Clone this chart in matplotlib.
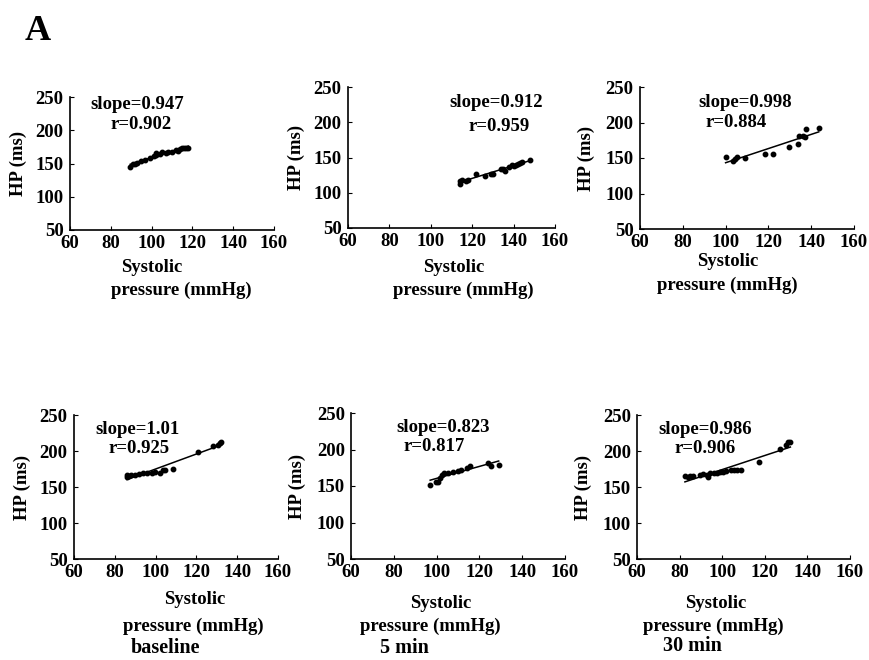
import numpy as np
import matplotlib
matplotlib.use('Agg')
import matplotlib.pyplot as plt

plt.rcParams['font.family'] = ['Liberation Serif', 'DejaVu Serif']
plt.rcParams['font.weight'] = 'bold'

# data: systolic pressure (mmHg) and HP (ms)
sbp_1 = [89.5, 91, 92, 93, 95, 97, 99, 101, 102, 102, 104, 105, 107, 108, 110, 112, 113, 114, 115, 116, 117, 118]
hp_1 = [145, 149, 150, 151, 154, 155, 158, 162, 166, 163, 164, 167, 166, 168, 168, 170, 169, 172, 174, 173, 173, 174]

sbp_2 = [114, 114, 115, 117, 118, 122, 126, 129, 130, 134, 135, 136, 138, 139, 140, 141, 142, 143, 144, 148]
hp_2 = [113, 117, 118, 117, 118, 127, 124, 126, 127, 134, 133, 131, 137, 139, 138, 139, 141, 142, 143, 147]

sbp_3 = [100, 103.5, 104.5, 105.5, 109, 118.5, 122, 129.5, 134, 134.5, 136, 137, 137.5, 143.5]
hp_3 = [152, 146, 149, 152, 150, 155, 156, 166, 170, 181, 181, 180, 191, 192]

sbp_4 = [86, 86, 87, 88, 90, 92, 94, 96, 98, 99.5, 102, 103.5, 104.5, 108.5, 121, 128, 130.5, 131.5, 132]
hp_4 = [167, 164, 165, 166, 167, 168, 169, 170, 170, 171, 170, 173, 174, 175, 198, 207, 209, 211, 212]

sbp_5 = [97, 99.5, 100.5, 101.5, 102.5, 103.5, 105.5, 107.5, 110, 111.5, 114, 115.5, 124, 125.5, 129]
hp_5 = [152, 156, 156, 161, 165, 168, 168, 169, 170, 172, 175, 177, 181, 178, 179]

sbp_6 = [82.5, 84, 85, 86.5, 89.5, 91, 93, 93.5, 94.5, 96, 97.5, 99, 100.5, 102, 104, 105.5, 107, 109, 117.5, 127, 130, 131, 132]
hp_6 = [165, 164, 165, 165, 166, 168, 167, 164, 169, 170, 170, 171, 171, 172, 173, 174, 174, 174, 185, 203, 209, 212, 212]

slopes = ['0.947', '0.912', '0.998', '1.01', '0.823', '0.986']
r_vals = ['0.902', '0.959', '0.884', '0.925', '0.817', '0.906']
times = [None, None, None, 'baseline', '5 min', '30 min']

xs = [sbp_1, sbp_2, sbp_3, sbp_4, sbp_5, sbp_6]
ys = [hp_1, hp_2, hp_3, hp_4, hp_5, hp_6]

W, H = 869, 660
# axes boxes in pixels: left, top, right, bottom
boxes = [(70, 97, 274, 230), (348, 87, 555, 228), (640, 87, 854, 229),
         (74, 415, 278, 559), (351, 413, 565, 559), (637, 415, 850, 559)]
# text positions (axes fraction): slope, r, Systolic, pressure, time label
slope_pos = [(0.33, 0.94), (0.715, 0.89), (0.49, 0.89), (0.31, 0.90), (0.43, 0.90), (0.32, 0.90)]
r_pos = [(0.35, 0.79), (0.73, 0.72), (0.45, 0.75), (0.32, 0.77), (0.39, 0.77), (0.32, 0.77)]
sys_pos = [(0.40, 267), (0.51, 267), (0.41, 261), (0.59, 600), (0.42, 603), (0.37, 603)]
pres_pos = [(0.545, 290), (0.555, 290), (0.41, 285), (0.585, 626), (0.37, 626), (0.36, 626)]
time_pos = [None, None, None, (0.45, 648), (0.25, 648), (0.26, 646)]

fig = plt.figure(figsize=(W / 100, H / 100), dpi=100)
fs = 13.5

for i in range(6):
    x0, y0, x1, y1 = boxes[i]
    ax = fig.add_axes([x0 / W, 1 - y1 / H, (x1 - x0) / W, (y1 - y0) / H])
    x = np.array(xs[i])
    y = np.array(ys[i])
    ax.plot(x, y, 'o', color='black', markersize=3.2)
    k, b = np.polyfit(x, y, 1)
    xl = np.array([x.min(), x.max()])
    ax.plot(xl, k * xl + b, color='black', lw=1.1)

    ax.set_xlim(60, 160)
    ax.set_ylim(50, 250)
    ax.set_xticks([60, 80, 100, 120, 140, 160])
    ax.set_yticks([50, 100, 150, 200, 250])
    ax.tick_params(direction='in', length=3, labelsize=fs)
    ax.tick_params(axis='x', pad=3.5)
    ax.tick_params(axis='y', pad=4.5)
    for lab in ax.get_xticklabels() + ax.get_yticklabels():
        lab.set_fontweight('bold')
    for s in ['top', 'right']:
        ax.spines[s].set_visible(False)
    ax.spines['left'].set_linewidth(1.2)
    ax.spines['bottom'].set_linewidth(1.2)

    ax.set_ylabel('HP (ms)', fontsize=fs, fontweight='bold')
    ax.yaxis.set_label_coords(-0.21, 0.5)

    ax.text(*slope_pos[i], 'slope=' + slopes[i], transform=ax.transAxes,
            ha='center', va='center', fontsize=fs, fontweight='bold')
    ax.text(*r_pos[i], 'r=' + r_vals[i], transform=ax.transAxes,
            ha='center', va='center', fontsize=fs, fontweight='bold')

    fx = x0 + sys_pos[i][0] * (x1 - x0)
    fig.text(fx / W, 1 - sys_pos[i][1] / H, 'Systolic', ha='center', va='center',
             fontsize=fs, fontweight='bold')
    fx = x0 + pres_pos[i][0] * (x1 - x0)
    fig.text(fx / W, 1 - pres_pos[i][1] / H, 'pressure (mmHg)', ha='center', va='center',
             fontsize=fs, fontweight='bold')
    if times[i]:
        fx = x0 + time_pos[i][0] * (x1 - x0)
        fig.text(fx / W, 1 - time_pos[i][1] / H, times[i], ha='center', va='center',
                 fontsize=14.5, fontweight='bold')

fig.text(38 / W, 1 - 32 / H, 'A', ha='center', va='center', fontsize=26, fontweight='bold')

plt.savefig('out.png', dpi=100)
